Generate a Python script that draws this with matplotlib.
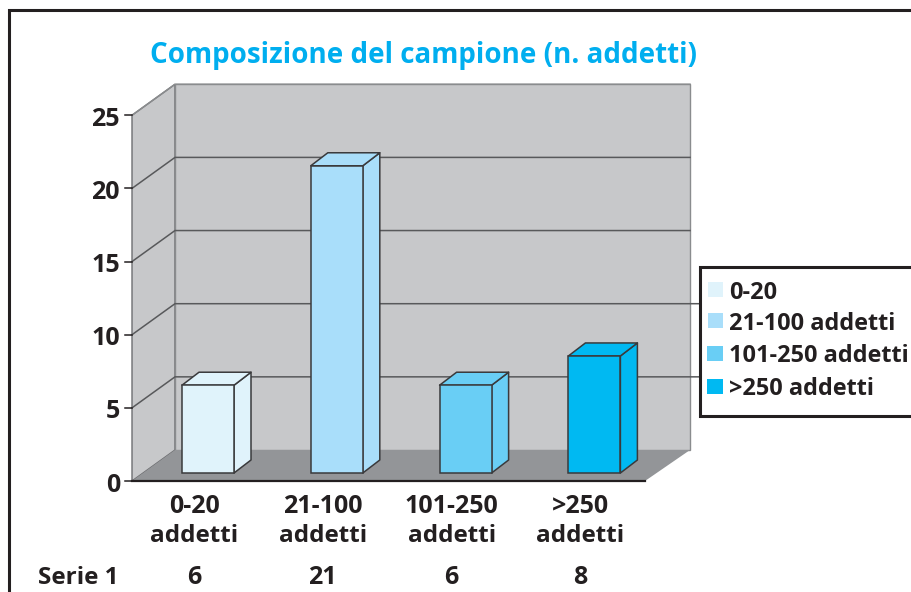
import matplotlib
matplotlib.use("Agg")
import matplotlib.pyplot as plt
from matplotlib.patches import Polygon, Rectangle

title = "Composizione del campione (n. addetti)"
categories = ["0-20\naddetti", "21-100\naddetti", "101-250\naddetti", ">250\naddetti"]
legend_labels = ["0-20", "21-100 addetti", "101-250 addetti", ">250 addetti"]
values = [6, 21, 6, 8]
value_labels = ["6", "21", "6", "8"]
series_name = "Serie 1"
y_ticks = [0, 5, 10, 15, 20, 25]
colors = ["#E0F3FB", "#A9DEFA", "#69CEF5", "#00B9F2"]

W, H = 911, 592
PX_X = 128.8           # pixels per category
PX_Y = 14.63           # pixels per value unit
X0_PX = 208            # centre of first bar
Y0_PX = 473            # bar base
TEXT = "#231F20"
FONT = "Open Sans"

plt.rcParams["font.family"] = [FONT, "DejaVu Sans"]
plt.rcParams["font.weight"] = "bold"
fig = plt.figure(figsize=(W / 100, H / 100), dpi=100)
ax = fig.add_axes([0, 0, 1, 1])
ax.set_xlim(-X0_PX / PX_X, (W - X0_PX) / PX_X)
ax.set_ylim(-(H - Y0_PX) / PX_Y, Y0_PX / PX_Y)
ax.axis("off")


def dx(p):
    return p / PX_X


def dy(p):
    return p / PX_Y


def px(xp, yp):
    """Figure-pixel position to data position (for furniture only)."""
    return ((xp - X0_PX) / PX_X, (Y0_PX - yp) / PX_Y)


# outer frame
ax.plot(*zip(px(8.5, 592), px(8.5, 10), px(911, 10)), color=TEXT, lw=2.2, zorder=1, solid_joinstyle="miter")

# walls and floor
top = max(y_ticks)
front_off = dy(-8)     # front wall sits 8 px under bar base
back_off = dy(23)      # back wall sits 23 px over bar base
xl, xb, xr, xf = 132, 175, 690, 645
fx = lambda p: (p - X0_PX) / PX_X
ax.add_patch(Polygon([(fx(xl), front_off), (fx(xl), top + front_off), (fx(xb), top + back_off), (fx(xb), back_off)],
                     fc="#C7C8CA", ec="#6D6E71", lw=1, zorder=2))
ax.add_patch(Polygon([(fx(xb), back_off), (fx(xb), top + back_off), (fx(xr), top + back_off), (fx(xr), back_off)],
                     fc="#C7C8CA", ec="#8A8C8E", lw=1, zorder=2))
ax.add_patch(Polygon([(fx(xl), front_off), (fx(xb), back_off), (fx(xr), back_off), (fx(xf), front_off)],
                     fc="#939598", ec="none", zorder=3))
ax.plot([fx(xl), fx(xf)], [front_off, front_off], color=TEXT, lw=1.6, zorder=4)

# gridlines and y ticks (the two lowest run on to the legend box)
for t in y_ticks:
    if t > 0:
        ax.plot([fx(xl), fx(xb), fx(700 if t in y_ticks[1:3] else xr)], [t + front_off, t + back_off, t + back_off],
                color="#58595B" if t < top else "#8A8C8E", lw=1.1, zorder=3)
    ax.plot([fx(125), fx(xl)], [t + front_off, t + front_off], color=TEXT, lw=1.1, zorder=3)
    ax.text(fx(120), t + front_off - dy(1), str(t), ha="right", va="center_baseline", fontsize=18, color=TEXT, zorder=6)

# bars
half = dx(26)
ddx, ddy = dx(17), dy(13)
for i, (v, c) in enumerate(zip(values, colors)):
    edge = "#3A3A3C"
    ax.add_patch(Polygon([(i + half, 0), (i + half + ddx, ddy), (i + half + ddx, v + ddy), (i + half, v)],
                         fc=c, ec=edge, lw=1.1, zorder=5, joinstyle="round"))
    ax.add_patch(Polygon([(i - half, v), (i - half + ddx, v + ddy), (i + half + ddx, v + ddy), (i + half, v)],
                         fc=c, ec=edge, lw=1.1, zorder=5, joinstyle="round"))
    ax.add_patch(Rectangle((i - half, 0), 2 * half, v, fc=c, ec=edge, lw=1.1, zorder=5))

# category labels and data row
for i, (cat, lab) in enumerate(zip(categories, value_labels)):
    xc = i - dx(14)
    ax.text(xc, dy(-30.5), cat.split("\n")[0], ha="center", va="center_baseline", fontsize=18, color=TEXT)
    ax.text(xc, dy(-60), cat.split("\n")[1], ha="center", va="center_baseline", fontsize=17.5, color=TEXT)
    ax.text(xc, dy(-102), lab, ha="center", va="center_baseline", fontsize=18, color=TEXT)
ax.text(*px(119, 575), series_name, ha="right", va="center_baseline", fontsize=17.5, color=TEXT)

# title
ax.text(*px(423.5, 52), title, ha="center", va="center_baseline", fontsize=20, color="#00AEEF")

# legend box
ax.add_patch(Rectangle(px(699.5, 416), dx(215), dy(149), fc="white", ec=TEXT, lw=2.2, zorder=7))
for lab, c, yp, xs in zip(legend_labels, colors, [290, 321, 353, 386], [708, 708, 707, 707]):
    ax.add_patch(Rectangle(px(xs, yp + 7.5), dx(723 - xs), dy(15), fc=c, ec="none", zorder=8))
    ax.text(*px(729, yp), lab, ha="left", va="center_baseline", fontsize=16.9, color=TEXT, zorder=8)

fig.savefig("out.png", dpi=100)
